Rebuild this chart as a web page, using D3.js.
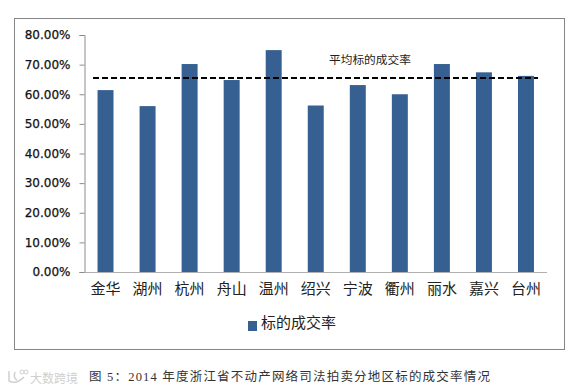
<!DOCTYPE html>
<html><head><meta charset="utf-8">
<script src="https://cdn.jsdelivr.net/npm/d3@7"></script>
<style>html,body{margin:0;padding:0;background:#fff}svg{display:block}</style></head>
<body><svg id="c" width="583" height="391"></svg>
<script>
const categories=["金华","湖州","杭州","舟山","温州","绍兴","宁波","衢州","丽水","嘉兴","台州"];
const rates=[61.4,56.0,70.2,64.8,74.9,56.2,63.1,60.0,70.2,67.4,66.2];
const average=65.5;
const ticks=[0,10,20,30,40,50,60,70,80];
const seriesName="标的成交率";
const avgLabel="平均标的成交率";
const caption="图 5：2014 年度浙江省不动产网络司法拍卖分地区标的成交率情况";
const watermark="大数跨境";

const sans='"Noto Sans CJK SC","Liberation Sans",sans-serif';
const serif='"Liberation Serif","Noto Sans CJK SC",serif';
const svg=d3.select("#c");
svg.append("rect").attr("x",14.5).attr("y",18.5).attr("width",550).attr("height",331)
  .attr("fill","#fff").attr("stroke","#868686");
const x=d3.scaleBand().domain(categories).range([84.5,547]).paddingInner(0.62).paddingOuter(0.31);
const y=d3.scaleLinear().domain([0,80]).range([272,35]);
const yAxis=d3.axisLeft(y).tickValues(ticks).tickSize(5).tickPadding(4).tickFormat(d=>d.toFixed(2)+"%");
const gy=svg.append("g").attr("transform","translate(84.5,0)").call(yAxis);
gy.select(".domain").attr("stroke","#8c8c8c");
gy.selectAll(".tick line").attr("stroke","#8c8c8c");
gy.selectAll("text").attr("fill","#111").attr("stroke","#111").attr("stroke-width",0.25)
  .style("font","12px 'DejaVu Sans',sans-serif").attr("x",-14);
const xAxis=d3.axisBottom(x).tickSize(0).tickPadding(11);
const gx=svg.append("g").attr("transform","translate(0,272)").call(xAxis);
gx.select(".domain").attr("stroke","#b0b0b0").attr("d","M84.5,0.5H547");
gx.selectAll("text").attr("fill","#222").style("font",`15px ${sans}`);
svg.append("g").selectAll("rect").data(rates).join("rect")
  .attr("x",(d,i)=>x(categories[i])).attr("width",x.bandwidth())
  .attr("y",d=>y(d)).attr("height",d=>y(0)-y(d)).attr("fill","#376092");
svg.append("line").attr("x1",93).attr("x2",538).attr("y1",y(average)).attr("y2",y(average))
  .attr("stroke","#000").attr("stroke-width",2).attr("stroke-dasharray","6 3");
svg.append("text").attr("x",329).attr("y",64).attr("fill","#222").style("font",`11.7px ${sans}`).text(avgLabel);
svg.append("rect").attr("x",248).attr("y",321).attr("width",9).attr("height",10).attr("fill","#376092");
svg.append("text").attr("x",261).attr("y",328).attr("fill","#222").style("font",`15px ${sans}`).text(seriesName);
svg.append("text").attr("x",89).attr("y",381).attr("fill","#333").style("font",`12.5px ${serif}`)
  .style("letter-spacing","1.2px").text(caption);
svg.append("text").attr("x",30).attr("y",383).attr("fill","#cfcfcf").style("font",`12px ${sans}`).text(watermark);
svg.append("path").attr("d","M9,371V381Q16,385 24,377M15,372Q13,378 17,380").attr("fill","none").attr("stroke","#cfcfcf").attr("stroke-width",1.5);
svg.append("circle").attr("cx",22).attr("cy",372).attr("r",2).attr("fill","none").attr("stroke","#cfcfcf");
svg.append("circle").attr("cx",26).attr("cy",372).attr("r",2).attr("fill","none").attr("stroke","#cfcfcf");
</script></body></html>
